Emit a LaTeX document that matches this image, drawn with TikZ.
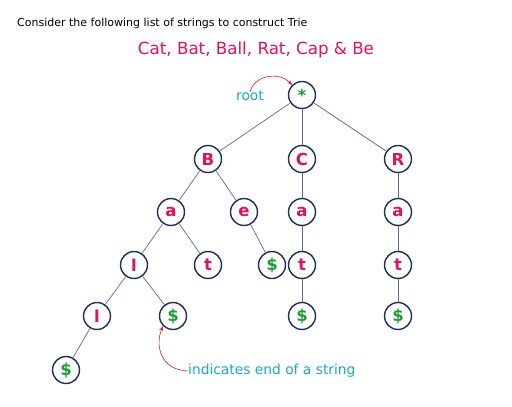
\documentclass[tikz,border=0pt]{standalone}
\usepackage{fontspec}
\setmainfont{DejaVu Sans}
\usetikzlibrary{arrows.meta}
\definecolor{crim}{HTML}{E0115F}
\definecolor{grn}{HTML}{1A9E3A}
\definecolor{navy}{HTML}{1F2D5A}
\definecolor{edgec}{HTML}{5A6A8C}
\definecolor{teal}{HTML}{1AA8C4}
\definecolor{arr}{HTML}{C8203C}
\begin{document}
\begin{tikzpicture}[x=1pt,y=-1pt,
  tnode/.style={circle,draw=navy,line width=1.4pt,minimum size=27pt,inner sep=0pt,fill=white},
  letter/.style={tnode,text=crim,font=\fontsize{16.5}{16.5}\selectfont\bfseries},
  endm/.style={tnode,text=grn,font=\fontsize{16.5}{16.5}\selectfont\bfseries},
  edge/.style={draw=edgec,line width=0.7pt},
  note/.style={text=teal,font=\fontsize{13.8}{14}\selectfont,inner sep=0pt},
  pointer/.style={draw=arr,line width=0.6pt,-{Stealth[length=5pt,width=4pt,open]}}]
\useasboundingbox (0,0) rectangle (512,407);
\node[anchor=base west,inner sep=0pt,font=\fontsize{11}{12}\selectfont] (head) at (17,26) {Consider the following list of strings to construct Trie};
\node[text=crim,font=\fontsize{16.7}{17}\selectfont] (title) at (256,50) {Cat, Bat, Ball, Rat, Cap \& Be};
% nodes
\node[endm] (root) at (302,95) {*};
\node[letter] (B) at (208,159) {B};
\node[letter] (C) at (302,159) {C};
\node[letter] (R) at (398,159) {R};
\node[letter] (Ba) at (171,212) {a};
\node[letter] (Be) at (244,212) {e};
\node[letter] (Ca) at (302,212) {a};
\node[letter] (Ra) at (398,212) {a};
\node[letter] (Bal) at (134,265) {l};
\node[letter] (Bat) at (208,265) {t};
\node[endm] (Bed) at (272,265) {\$};
\node[letter] (Cat) at (302,265) {t};
\node[letter] (Rat) at (398,265) {t};
\node[letter] (Ball) at (97,316) {l};
\node[endm] (Batd) at (173,316) {\$};
\node[endm] (Catd) at (302,316) {\$};
\node[endm] (Ratd) at (398,316) {\$};
\node[endm] (Balld) at (66,370) {\$};
% edges
\draw[edge] (root) -- (B);
\draw[edge] (root) -- (C);
\draw[edge] (root) -- (R);
\draw[edge] (B) -- (Ba);
\draw[edge] (B) -- (Be);
\draw[edge] (Be) -- (Bed);
\draw[edge] (Ba) -- (Bal);
\draw[edge] (Ba) -- (Bat);
\draw[edge] (Bal) -- (Ball);
\draw[edge] (Bal) -- (Batd);
\draw[edge] (Ball) -- (Balld);
\draw[edge] (C) -- (Ca);
\draw[edge] (Ca) -- (Cat);
\draw[edge] (Cat) -- (Catd);
\draw[edge] (R) -- (Ra);
\draw[edge] (Ra) -- (Rat);
\draw[edge] (Rat) -- (Ratd);
% notes
\node[note,anchor=east] (rootlbl) at (264,96) {root};
\node[note,anchor=west] (endlbl) at (188,371) {indicates end of a string};
\draw[pointer] ([yshift=-1pt]rootlbl.north) .. controls (255,74) and (280,72) .. (root.north west);
\draw[pointer] (endlbl.west) .. controls (160,370) and (155,345) .. (Batd.south west);
\end{tikzpicture}
\end{document}
